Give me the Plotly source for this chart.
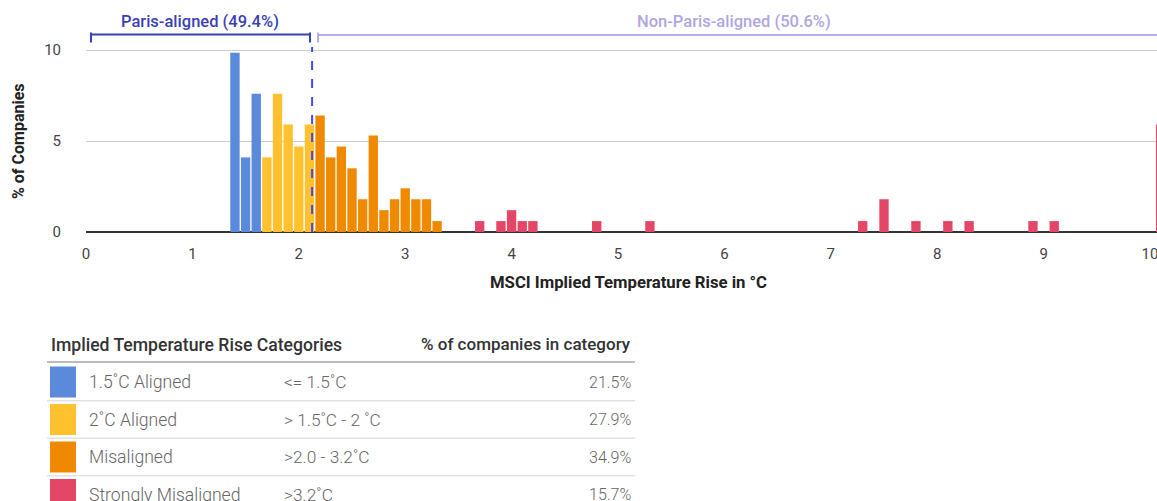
import plotly.graph_objects as go

# ---------------- data ----------------
blue_x = [1.4, 1.5, 1.6]
blue_y = [9.85, 4.1, 7.6]
yellow_x = [1.7, 1.8, 1.9, 2.0, 2.1]
yellow_y = [4.1, 7.6, 5.9, 4.7, 5.9]
orange_x = [2.2, 2.3, 2.4, 2.5, 2.6, 2.7, 2.8, 2.9, 3.0, 3.1, 3.2, 3.3]
orange_y = [6.4, 4.1, 4.7, 3.5, 1.8, 5.3, 1.2, 1.8, 2.4, 1.8, 1.8, 0.6]
red_x = [3.7, 3.9, 4.0, 4.1, 4.2, 4.8, 5.3, 7.3, 7.5, 7.8, 8.1, 8.3, 8.9, 9.1, 10.1]
red_y = [0.6, 0.6, 1.2, 0.6, 0.6, 0.6, 0.6, 0.6, 1.8, 0.6, 0.6, 0.6, 0.6, 0.6, 5.9]

paris_threshold = 2.125
paris_label = "Paris-aligned (49.4%)"
nonparis_label = "Non-Paris-aligned (50.6%)"

cat_names = ["1.5˚C Aligned", "2˚C Aligned", "Misaligned", "Strongly Misaligned"]
cat_ranges = ["<= 1.5˚C", "> 1.5˚C - 2 ˚C", ">2.0 - 3.2˚C", ">3.2˚C"]
cat_pcts = ["21.5%", "27.9%", "34.9%", "15.7%"]
cat_colors = ["#5A8AD9", "#FFC12E", "#EF8A00", "#E34666"]

x_ticks = list(range(0, 11))
y_ticks = [0, 5, 10]

# ---------------- layout geometry (page pixels; body margin removed) ----------------
W, H = 1157, 501
PLOT_L, PLOT_T, PLOT_B = 86, 30, 232
L, T, B, R = PLOT_L, PLOT_T, H - PLOT_B, 0
PW, PH = W - L - R, H - T - B


def px(x):  # page pixel -> paper x
    return (x - PLOT_L) / PW


def py(y):  # page pixel -> paper y
    return (PLOT_B - y) / PH


FONT = "Roboto"

fig = go.Figure()
for xs, ys, c, n in [(blue_x, blue_y, cat_colors[0], cat_names[0]),
                     (yellow_x, yellow_y, cat_colors[1], cat_names[1]),
                     (orange_x, orange_y, cat_colors[2], cat_names[2]),
                     (red_x, red_y, cat_colors[3], cat_names[3])]:
    fig.add_trace(go.Bar(x=xs, y=ys, width=0.088, marker=dict(color=c, line=dict(width=0)),
                         name=n, showlegend=False))

fig.update_layout(
    width=W, height=H,
    margin=dict(l=L, r=R, t=T, b=B, pad=0),
    paper_bgcolor="white", plot_bgcolor="white",
    barmode="overlay",
    font=dict(family=FONT, color="#444"),
    xaxis=dict(range=[0, PW / 106.4], tickmode="array", tickvals=x_ticks,
               ticktext=[str(v) for v in x_ticks], showgrid=False, zeroline=False,
               showline=False, ticks="", ticklabelstandoff=11, ticklabeloverflow="allow",
               tickfont=dict(size=15, color="#444")),
    yaxis=dict(range=[0, PH / 18.2], tickmode="array", tickvals=y_ticks,
               showgrid=True, gridcolor="#cccccc", gridwidth=1,
               zeroline=True, zerolinecolor="#333333", zerolinewidth=2,
               showline=False, ticks="", ticklabelstandoff=24,
               tickfont=dict(size=15, color="#444")),
)

shapes = []
ann = []

# dashed threshold line
shapes.append(dict(type="line", xref="x", yref="paper", x0=paris_threshold, x1=paris_threshold,
                   y0=0, y1=py(47), line=dict(color="#3F4BF2", width=2, dash="dash")))
# Paris bracket
pc = "#3441B8"
shapes.append(dict(type="line", xref="paper", yref="paper", x0=px(91), x1=px(310), y0=py(34.5), y1=py(34.5),
                   line=dict(color=pc, width=2)))
for xx in (91, 310):
    shapes.append(dict(type="line", xref="paper", yref="paper", x0=px(xx), x1=px(xx), y0=py(32.5), y1=py(42.5),
                       line=dict(color=pc, width=2)))
# Non-Paris bracket
npc = "#B6AEEA"
shapes.append(dict(type="line", xref="paper", yref="paper", x0=px(318), x1=px(W + 5), y0=py(35), y1=py(35),
                   line=dict(color=npc, width=2)))
shapes.append(dict(type="line", xref="paper", yref="paper", x0=px(318), x1=px(318), y0=py(32.5), y1=py(42.5),
                   line=dict(color=npc, width=2)))

ann.append(dict(text=paris_label, x=px(200), y=py(22), xref="paper", yref="paper", showarrow=False,
                xanchor="center", yanchor="middle", font=dict(family=FONT, size=16.5, color="#3B3FB5", weight=500)))
ann.append(dict(text=nonparis_label, x=px(734), y=py(22), xref="paper", yref="paper", showarrow=False,
                xanchor="center", yanchor="middle", font=dict(family=FONT, size=16.5, color="#B0A6E2", weight=500)))

# axis titles
ann.append(dict(text="MSCI Implied Temperature Rise in °C", x=px(628), y=py(282), xref="paper", yref="paper",
                showarrow=False, xanchor="center", yanchor="middle",
                font=dict(family=FONT, size=16.7, color="#222", weight="bold")))
ann.append(dict(text="% of Companies", x=px(18), y=py(141), xref="paper", yref="paper", textangle=-90,
                showarrow=False, xanchor="center", yanchor="middle",
                font=dict(family=FONT, size=16, color="#222", weight="bold")))

# ---------------- table ----------------
ann.append(dict(text="Implied Temperature Rise Categories", x=px(49), y=py(345), xref="paper", yref="paper",
                showarrow=False, xanchor="left", yanchor="middle",
                font=dict(family=FONT, size=17.6, color="#333", weight=500)))
ann.append(dict(text="% of companies in category", x=px(633), y=py(344), xref="paper", yref="paper",
                showarrow=False, xanchor="right", yanchor="middle",
                font=dict(family=FONT, size=17, color="#333", weight=500)))
shapes.append(dict(type="line", xref="paper", yref="paper", x0=px(47), x1=px(635), y0=py(362), y1=py(362),
                   line=dict(color="#bbbbbb", width=2)))
row_h = 37.5
for i in range(4):
    cy = 382 + i * row_h
    shapes.append(dict(type="rect", xref="paper", yref="paper", x0=px(50), x1=px(76),
                       y0=py(cy - 15.5), y1=py(cy + 15.5), fillcolor=cat_colors[i], line=dict(width=0)))
    ann.append(dict(text=cat_names[i], x=px(87), y=py(cy), xref="paper", yref="paper", showarrow=False,
                    xanchor="left", yanchor="middle", font=dict(family=FONT, size=17.6, color="#666", weight=300)))
    ann.append(dict(text=cat_ranges[i], x=px(282), y=py(cy), xref="paper", yref="paper", showarrow=False,
                    xanchor="left", yanchor="middle", font=dict(family=FONT, size=17.3, color="#666", weight=300)))
    ann.append(dict(text=cat_pcts[i], x=px(633), y=py(cy), xref="paper", yref="paper", showarrow=False,
                    xanchor="right", yanchor="middle", font=dict(family=FONT, size=16, color="#666", weight=300)))
    if i < 3:
        sy = cy + row_h / 2
        shapes.append(dict(type="line", xref="paper", yref="paper", x0=px(47), x1=px(635), y0=py(sy), y1=py(sy),
                           line=dict(color="#e2e2e2", width=1.5)))

fig.update_layout(shapes=shapes, annotations=ann)
fig.write_html("out.html", config={"displayModeBar": False},
               post_script="document.body.style.margin='0';document.body.style.overflow='hidden';")
